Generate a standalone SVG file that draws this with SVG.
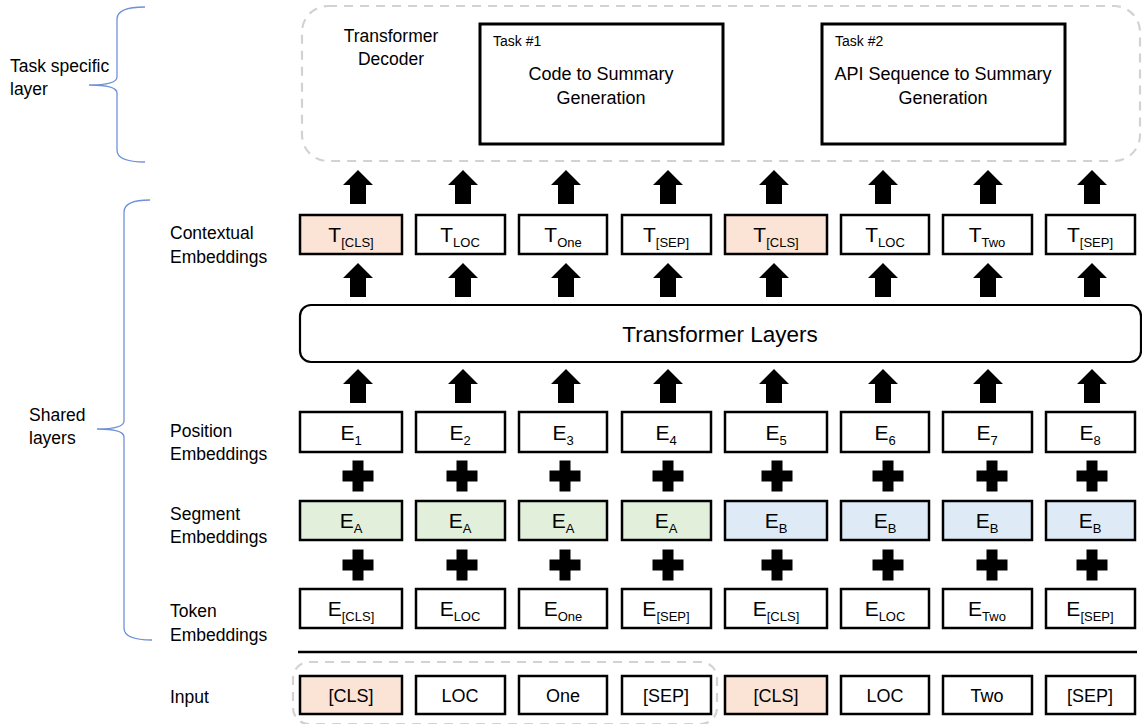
<svg xmlns="http://www.w3.org/2000/svg" xmlns:xlink="http://www.w3.org/1999/xlink" width="1142" height="724" viewBox="0 0 1142 724">
<style>
text{font-family:"Liberation Sans",Arial,sans-serif;fill:#000}
.lbl{font-size:17.5px}
.bx{fill:#fff;stroke:#000;stroke-width:2.5}
.pk{fill:#fbe3d5}
.gr{fill:#e2efda}
.bl{fill:#deebf7}
.bt{font-size:21px;text-anchor:middle}
.sb{font-size:13px}
.it{font-size:18px;text-anchor:middle}
.dash{fill:none;stroke:#d2d2d2;stroke-width:2.2;stroke-dasharray:9 7}
.brace{fill:none;stroke:#6f91d8;stroke-width:1.3}
</style>
<defs>
<polygon id="arr" points="0,0 15,15 8,15 8,34 -8,34 -8,15 -15,15" fill="#000"/>
<polygon id="plus" points="-5.5,-15.5 5.5,-15.5 5.5,-5.5 15.5,-5.5 15.5,5.5 5.5,5.5 5.5,15.5 -5.5,15.5 -5.5,5.5 -15.5,5.5 -15.5,-5.5 -5.5,-5.5" fill="#000"/>
</defs>

<g id="side-labels">
<path class="brace" d="M145,7 Q117,7 117,19 L117,77 Q117,85 89,85 Q117,85 117,93 L117,150 Q117,162 145,162"/>
<text class="lbl" x="10" y="72">Task specific</text>
<text class="lbl" x="10" y="95">layer</text>
<path class="brace" d="M150,200 Q124,200 124,212 L124,421 Q124,429 97,429 Q124,429 124,437 L124,628 Q124,640 152,640"/>
<text class="lbl" x="29" y="421">Shared</text>
<text class="lbl" x="29" y="444">layers</text>
<text class="lbl" x="170" y="239">Contextual</text>
<text class="lbl" x="170" y="263">Embeddings</text>
<text class="lbl" x="170" y="437">Position</text>
<text class="lbl" x="170" y="460">Embeddings</text>
<text class="lbl" x="170" y="520">Segment</text>
<text class="lbl" x="170" y="543">Embeddings</text>
<text class="lbl" x="170" y="617">Token</text>
<text class="lbl" x="170" y="641">Embeddings</text>
<text class="lbl" x="170" y="703">Input</text>
</g>

<g id="task-layer">
<rect class="dash" x="302" y="6" width="838" height="155" rx="26"/>
<text class="lbl" x="391" y="42" text-anchor="middle">Transformer</text>
<text class="lbl" x="391" y="65" text-anchor="middle">Decoder</text>
</g>
<g id="task1">
<rect x="480" y="24" width="243" height="120" fill="#fff" stroke="#000" stroke-width="3"/>
<text x="493" y="46" font-size="14">Task #1</text>
<text x="601" y="80" font-size="18" text-anchor="middle">Code to Summary</text>
<text x="601" y="104" font-size="18" text-anchor="middle">Generation</text>
</g>
<g id="task2">
<rect x="822" y="24" width="243" height="120" fill="#fff" stroke="#000" stroke-width="3"/>
<text x="835" y="46" font-size="14">Task #2</text>
<text x="943" y="80" font-size="18" text-anchor="middle">API Sequence to Summary</text>
<text x="943" y="104" font-size="18" text-anchor="middle">Generation</text>
</g>

<g id="contextual">
<g id="t1"><rect class="bx pk" x="300" y="215" width="102" height="39"/><text class="bt" x="351" y="242">T<tspan class="sb" dy="5">[CLS]</tspan></text></g>
<g id="t2"><rect class="bx" x="416" y="215" width="89" height="39"/><text class="bt" x="460" y="242">T<tspan class="sb" dy="5">LOC</tspan></text></g>
<g id="t3"><rect class="bx" x="519" y="215" width="88" height="39"/><text class="bt" x="563" y="242">T<tspan class="sb" dy="5">One</tspan></text></g>
<g id="t4"><rect class="bx" x="622" y="215" width="89" height="39"/><text class="bt" x="666" y="242">T<tspan class="sb" dy="5">[SEP]</tspan></text></g>
<g id="t5"><rect class="bx pk" x="725" y="215" width="102" height="39"/><text class="bt" x="776" y="242">T<tspan class="sb" dy="5">[CLS]</tspan></text></g>
<g id="t6"><rect class="bx" x="841" y="215" width="88" height="39"/><text class="bt" x="885" y="242">T<tspan class="sb" dy="5">LOC</tspan></text></g>
<g id="t7"><rect class="bx" x="943" y="215" width="89" height="39"/><text class="bt" x="987" y="242">T<tspan class="sb" dy="5">Two</tspan></text></g>
<g id="t8"><rect class="bx" x="1046" y="215" width="89" height="39"/><text class="bt" x="1090" y="242">T<tspan class="sb" dy="5">[SEP]</tspan></text></g>
</g>

<g id="transformer-layers">
<rect x="300" y="305" width="841" height="57" rx="11" fill="#fff" stroke="#000" stroke-width="2.2"/>
<text x="720" y="342" font-size="22.5" text-anchor="middle">Transformer Layers</text>
</g>

<g id="position">
<g id="p1"><rect class="bx" x="300" y="412" width="102" height="40"/><text class="bt" x="351" y="440">E<tspan class="sb" dy="5">1</tspan></text></g>
<g id="p2"><rect class="bx" x="416" y="412" width="89" height="40"/><text class="bt" x="460" y="440">E<tspan class="sb" dy="5">2</tspan></text></g>
<g id="p3"><rect class="bx" x="519" y="412" width="88" height="40"/><text class="bt" x="563" y="440">E<tspan class="sb" dy="5">3</tspan></text></g>
<g id="p4"><rect class="bx" x="622" y="412" width="89" height="40"/><text class="bt" x="666" y="440">E<tspan class="sb" dy="5">4</tspan></text></g>
<g id="p5"><rect class="bx" x="725" y="412" width="102" height="40"/><text class="bt" x="776" y="440">E<tspan class="sb" dy="5">5</tspan></text></g>
<g id="p6"><rect class="bx" x="841" y="412" width="88" height="40"/><text class="bt" x="885" y="440">E<tspan class="sb" dy="5">6</tspan></text></g>
<g id="p7"><rect class="bx" x="943" y="412" width="89" height="40"/><text class="bt" x="987" y="440">E<tspan class="sb" dy="5">7</tspan></text></g>
<g id="p8"><rect class="bx" x="1046" y="412" width="89" height="40"/><text class="bt" x="1090" y="440">E<tspan class="sb" dy="5">8</tspan></text></g>
</g>

<g id="segment">
<g id="s1"><rect class="bx gr" x="300" y="501" width="102" height="39"/><text class="bt" x="351" y="528">E<tspan class="sb" dy="5">A</tspan></text></g>
<g id="s2"><rect class="bx gr" x="416" y="501" width="89" height="39"/><text class="bt" x="460" y="528">E<tspan class="sb" dy="5">A</tspan></text></g>
<g id="s3"><rect class="bx gr" x="519" y="501" width="88" height="39"/><text class="bt" x="563" y="528">E<tspan class="sb" dy="5">A</tspan></text></g>
<g id="s4"><rect class="bx gr" x="622" y="501" width="89" height="39"/><text class="bt" x="666" y="528">E<tspan class="sb" dy="5">A</tspan></text></g>
<g id="s5"><rect class="bx bl" x="725" y="501" width="102" height="39"/><text class="bt" x="776" y="528">E<tspan class="sb" dy="5">B</tspan></text></g>
<g id="s6"><rect class="bx bl" x="841" y="501" width="88" height="39"/><text class="bt" x="885" y="528">E<tspan class="sb" dy="5">B</tspan></text></g>
<g id="s7"><rect class="bx bl" x="943" y="501" width="89" height="39"/><text class="bt" x="987" y="528">E<tspan class="sb" dy="5">B</tspan></text></g>
<g id="s8"><rect class="bx bl" x="1046" y="501" width="89" height="39"/><text class="bt" x="1090" y="528">E<tspan class="sb" dy="5">B</tspan></text></g>
</g>

<g id="token">
<g id="k1"><rect class="bx" x="300" y="589" width="102" height="39"/><text class="bt" x="351" y="616">E<tspan class="sb" dy="5">[CLS]</tspan></text></g>
<g id="k2"><rect class="bx" x="416" y="589" width="89" height="39"/><text class="bt" x="460" y="616">E<tspan class="sb" dy="5">LOC</tspan></text></g>
<g id="k3"><rect class="bx" x="519" y="589" width="88" height="39"/><text class="bt" x="563" y="616">E<tspan class="sb" dy="5">One</tspan></text></g>
<g id="k4"><rect class="bx" x="622" y="589" width="89" height="39"/><text class="bt" x="666" y="616">E<tspan class="sb" dy="5">[SEP]</tspan></text></g>
<g id="k5"><rect class="bx" x="725" y="589" width="102" height="39"/><text class="bt" x="776" y="616">E<tspan class="sb" dy="5">[CLS]</tspan></text></g>
<g id="k6"><rect class="bx" x="841" y="589" width="88" height="39"/><text class="bt" x="885" y="616">E<tspan class="sb" dy="5">LOC</tspan></text></g>
<g id="k7"><rect class="bx" x="943" y="589" width="89" height="39"/><text class="bt" x="987" y="616">E<tspan class="sb" dy="5">Two</tspan></text></g>
<g id="k8"><rect class="bx" x="1046" y="589" width="89" height="39"/><text class="bt" x="1090" y="616">E<tspan class="sb" dy="5">[SEP]</tspan></text></g>
</g>

<line id="separator" x1="298" y1="652" x2="1137" y2="652" stroke="#000" stroke-width="2.5"/>

<g id="input">
<rect class="dash" x="293" y="662" width="424" height="62" rx="16"/>
<g id="i1"><rect class="bx pk" x="300" y="676" width="102" height="38"/><text class="it" x="351" y="702">[CLS]</text></g>
<g id="i2"><rect class="bx" x="416" y="676" width="89" height="38"/><text class="it" x="460" y="702">LOC</text></g>
<g id="i3"><rect class="bx" x="519" y="676" width="88" height="38"/><text class="it" x="563" y="702">One</text></g>
<g id="i4"><rect class="bx" x="622" y="676" width="89" height="38"/><text class="it" x="666" y="702">[SEP]</text></g>
<g id="i5"><rect class="bx pk" x="725" y="676" width="102" height="38"/><text class="it" x="776" y="702">[CLS]</text></g>
<g id="i6"><rect class="bx" x="841" y="676" width="88" height="38"/><text class="it" x="885" y="702">LOC</text></g>
<g id="i7"><rect class="bx" x="943" y="676" width="89" height="38"/><text class="it" x="987" y="702">Two</text></g>
<g id="i8"><rect class="bx" x="1046" y="676" width="89" height="38"/><text class="it" x="1090" y="702">[SEP]</text></g>
</g>

<g id="connectors">
<use xlink:href="#arr" x="358" y="170"/><use xlink:href="#arr" x="463" y="170"/><use xlink:href="#arr" x="566" y="170"/><use xlink:href="#arr" x="668" y="170"/>
<use xlink:href="#arr" x="774" y="170"/><use xlink:href="#arr" x="883" y="170"/><use xlink:href="#arr" x="988" y="170"/><use xlink:href="#arr" x="1092" y="170"/>
<use xlink:href="#arr" x="358" y="263"/><use xlink:href="#arr" x="463" y="263"/><use xlink:href="#arr" x="566" y="263"/><use xlink:href="#arr" x="668" y="263"/>
<use xlink:href="#arr" x="774" y="263"/><use xlink:href="#arr" x="883" y="263"/><use xlink:href="#arr" x="988" y="263"/><use xlink:href="#arr" x="1092" y="263"/>
<use xlink:href="#arr" x="358" y="369"/><use xlink:href="#arr" x="463" y="369"/><use xlink:href="#arr" x="566" y="369"/><use xlink:href="#arr" x="668" y="369"/>
<use xlink:href="#arr" x="774" y="369"/><use xlink:href="#arr" x="883" y="369"/><use xlink:href="#arr" x="988" y="369"/><use xlink:href="#arr" x="1092" y="369"/>
<use xlink:href="#plus" x="358" y="476"/><use xlink:href="#plus" x="462" y="476"/><use xlink:href="#plus" x="565" y="476"/><use xlink:href="#plus" x="668" y="476"/>
<use xlink:href="#plus" x="777" y="476"/><use xlink:href="#plus" x="888" y="476"/><use xlink:href="#plus" x="992" y="476"/><use xlink:href="#plus" x="1092" y="476"/>
<use xlink:href="#plus" x="358" y="565"/><use xlink:href="#plus" x="462" y="565"/><use xlink:href="#plus" x="565" y="565"/><use xlink:href="#plus" x="668" y="565"/>
<use xlink:href="#plus" x="777" y="565"/><use xlink:href="#plus" x="888" y="565"/><use xlink:href="#plus" x="992" y="565"/><use xlink:href="#plus" x="1092" y="565"/>
</g>
</svg>
